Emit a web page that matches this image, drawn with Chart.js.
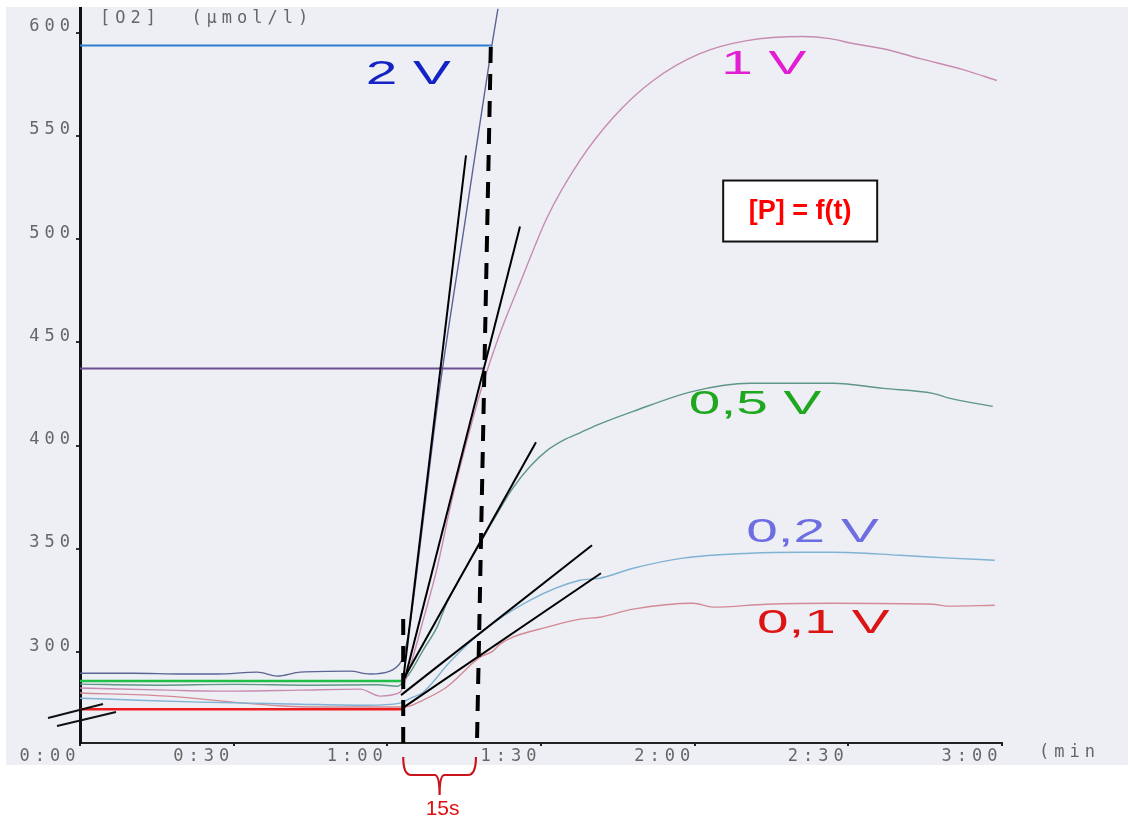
<!DOCTYPE html>
<html>
<head>
<meta charset="utf-8">
<script src="https://cdn.jsdelivr.net/npm/chart.js@4.4.1/dist/chart.umd.min.js"></script>
<style>
  html, body { margin: 0; padding: 0; background: #ffffff; }
  #wrap { width: 1130px; height: 821px; position: relative; }
</style>
</head>
<body>
<div id="wrap"><canvas id="chart_o2"></canvas></div>
<script>
// axis ticks
const tickTimes = [0, 30, 60, 90, 120, 150, 180]; // seconds
const tickTimeLabels = ["0:00", "0:30", "1:00", "1:30", "2:00", "2:30", "3:00"];
const tickO2 = [300, 350, 400, 450, 500, 550, 600];

// recorded [O2] curves, time in s, value in µmol/l
const time2V = [0, 10.3, 20.1, 26.7, 34.6, 38.5, 43, 52.7, 56.6, 60.5, 62.5, 63.25, 64.4, 66.4, 69.9, 75.2, 80.4, 81.6, 82.4];
const o2At2V = [289.8, 289.8, 289.4, 289.4, 290.3, 288.4, 290.3, 290.8, 289.4, 290.8, 294.7, 298.6, 313.1, 351.8, 421.9, 509, 593.7, 611.6, 624.5];

const time1V = [0, 17, 29.9, 42.9, 54.7, 58.6, 62.5, 63.4, 65, 67, 69.7, 72.6, 77.7, 78.7, 82, 85.9, 91.2, 97.6, 104.1, 111.9, 121, 130.2, 141.2, 146.4, 150.9, 157.5, 164, 172.4, 179];
const o2At1V = [282.6, 281.6, 281.1, 281.6, 282.1, 278.7, 280.6, 285.5, 297.6, 315.5, 340.6, 373.6, 421.9, 430.2, 454.4, 478.6, 510.5, 538.1, 558.9, 576.8, 589.8, 596.1, 598.1, 597.1, 594.7, 591.8, 587.4, 582.1, 576.8];

const time05V = [0, 15, 30, 45, 58, 62, 63.8, 65, 67, 69.7, 71.6, 78.1, 81.4, 84.5, 87.9, 91.2, 94.5, 97.6, 101.5, 108, 119.7, 130.8, 143.1, 147, 156.8, 166.5, 169.9, 178.2];
const o2At05V = [284.5, 284, 284.4, 284, 284.2, 283.5, 287.9, 292.3, 301, 312.1, 323.7, 352.7, 366.8, 379.4, 390, 397.7, 402.8, 406.2, 410.5, 416.6, 426.3, 430.2, 430.2, 430.2, 427.7, 425.3, 422.9, 419];

const time02V = [0, 10.3, 23.4, 33.2, 42.9, 56, 62.5, 63.8, 65, 67, 72.2, 78.1, 87.9, 97.6, 101.5, 108, 117.7, 130.8, 140.6, 147, 160.1, 169.9, 178.6];
const o2At02V = [277.7, 276.8, 275.8, 275.3, 274.8, 274.3, 275.3, 276.8, 278.2, 280.6, 295.2, 309.2, 325.2, 334.8, 335.8, 340.6, 345.5, 347.9, 348.4, 348.4, 346.9, 345.5, 344.5];

const time01V = [0, 17, 29.9, 39.6, 46.3, 58.6, 63.4, 67, 71.6, 78.1, 80.6, 82, 84.5, 91.2, 97.6, 101.5, 108, 119.7, 123.6, 134.1, 147, 166.5, 169.3, 178.6];
const o2At01V = [280.2, 278.7, 275.8, 273.9, 273.4, 273.4, 273.4, 276.8, 283.1, 297.6, 300.5, 303.9, 307.3, 312.1, 316, 316.9, 320.8, 323.7, 321.8, 323.2, 323.7, 323.2, 322.3, 322.7];

// horizontal reading lines: [end time, level]
const levelBlue = [80.4, 593.7];
const levelPurple = [78.7, 437.4];
const levelGreen = [62.7, 286.0];
const levelRed = [63.1, 272.4];

// hand-drawn tangents: [t start, t end], [o2 start, o2 end]
const tangentTimes = [[63.25, 75.36], [63.45, 85.9], [63.06, 89.02], [62.67, 99.96], [63.25, 101.7]];
const tangentO2 = [[289.8, 540.5], [287.4, 506.1], [286.5, 401.6], [279.2, 351.8], [273.4, 338.2]];

// dashed reading verticals
const dashTimes = [[63.1, 63.1], [80.2, 77.5]];
const dashO2 = [[256, 317.9], [593, 256]];

// annotations
const voltLabels = ["2 V", "1 V", "0,5 V", "0,2 V", "0,1 V"];
const voltLabelAt = [[64.1, 579.7], [133.5, 584.5], [131.8, 419.5], [143.0, 357.8], [145.1, 313.6]];
const voltColors = ["#1424c4", "#e21ed2", "#1fa81f", "#6e6ee2", "#dc1414"];

const pts = (ts, vs) => ts.map((t, i) => ({ x: t, y: vs[i] }));

function curve(ts, vs, color) {
  return {
    data: pts(ts, vs),
    borderColor: color,
    borderWidth: 1.4,
    pointRadius: 0,
    cubicInterpolationMode: "monotone",
    order: 3,
  };
}

function straight(ts, vs, color, width, order, dash) {
  return {
    data: pts(ts, vs),
    borderColor: color,
    borderWidth: width,
    pointRadius: 0,
    tension: 0,
    borderDash: dash || [],
    borderCapStyle: "butt",
    order: order,
  };
}

function stretchText(ctx, text, x, y, font, color, sx) {
  ctx.save();
  ctx.translate(x, y);
  ctx.scale(sx, 1);
  ctx.font = font;
  ctx.fillStyle = color;
  ctx.textAlign = "center";
  ctx.textBaseline = "middle";
  ctx.fillText(text, 0, 0);
  ctx.restore();
}

const paperPlugin = {
  id: "paper",
  beforeDraw(chart) {
    const ctx = chart.ctx;
    ctx.save();
    ctx.fillStyle = "#eeeff4"; // scanned sheet
    ctx.fillRect(6, 7, 1122, 758);
    ctx.restore();
    ctx.letterSpacing = "5px"; // typewriter spacing for tick labels
  },
  beforeDatasetsDraw(chart) {
    chart.ctx.letterSpacing = "0px";
  },
  afterDraw(chart) {
    const ctx = chart.ctx;
    const xs = chart.scales.x;
    const ys = chart.scales.y;
    const area = chart.chartArea;
    ctx.save();
    ctx.letterSpacing = "0px";

    voltLabels.forEach((txt, i) => {
      stretchText(ctx, txt, xs.getPixelForValue(voltLabelAt[i][0]), ys.getPixelForValue(voltLabelAt[i][1]),
        "33px 'Liberation Sans', Arial, sans-serif", voltColors[i], 1.72);
    });

    // unit header and axis unit
    ctx.letterSpacing = "5px";
    ctx.font = "17px 'DejaVu Sans Mono', monospace";
    ctx.fillStyle = "#666666";
    ctx.textAlign = "left";
    ctx.textBaseline = "middle";
    ctx.fillText("[O2]  (µmol/l)", xs.getPixelForValue(3.9), ys.getPixelForValue(606.8));
    ctx.fillText("(min", xs.getPixelForValue(180) + 37, area.bottom + 10);
    ctx.letterSpacing = "0px";

    // [P] = f(t) box
    const bx = xs.getPixelForValue(140.6);
    const by = ys.getPixelForValue(513.6);
    ctx.fillStyle = "#ffffff";
    ctx.fillRect(bx - 77, by - 30.5, 154, 61);
    ctx.strokeStyle = "#111111";
    ctx.lineWidth = 2;
    ctx.strokeRect(bx - 77, by - 30.5, 154, 61);
    ctx.fillStyle = "#ff0000";
    ctx.font = "bold 27px 'Liberation Sans', Arial, sans-serif";
    ctx.textAlign = "center";
    ctx.fillText("[P] = f(t)", bx, by + 1);

    // axis break marks
    const x0 = xs.getPixelForValue(0);
    ctx.strokeStyle = "#111111";
    ctx.lineWidth = 2;
    ctx.beginPath();
    ctx.moveTo(x0 - 32, area.bottom - 25);
    ctx.lineTo(x0 + 23, area.bottom - 39);
    ctx.moveTo(x0 - 23, area.bottom - 17);
    ctx.lineTo(x0 + 36, area.bottom - 31);
    ctx.stroke();

    // 15 s brace
    const b0 = xs.getPixelForValue(63.1);
    const b1 = xs.getPixelForValue(77.3);
    const bm = (b0 + b1) / 2;
    const yTop = area.bottom + 14;
    const yMid = area.bottom + 32;
    const yTip = area.bottom + 52;
    ctx.strokeStyle = "#c8161c";
    ctx.lineWidth = 2.2;
    ctx.beginPath();
    ctx.moveTo(b0, yTop);
    ctx.quadraticCurveTo(b0, yMid, b0 + 8, yMid);
    ctx.lineTo(bm - 5, yMid);
    ctx.quadraticCurveTo(bm, yMid, bm, yTip);
    ctx.quadraticCurveTo(bm, yMid, bm + 5, yMid);
    ctx.lineTo(b1 - 8, yMid);
    ctx.quadraticCurveTo(b1, yMid, b1, yTop);
    ctx.stroke();
    ctx.fillStyle = "#e01010";
    ctx.font = "21px 'Liberation Sans', Arial, sans-serif";
    ctx.textAlign = "center";
    ctx.fillText("15s", bm + 3, area.bottom + 66);
    ctx.restore();
  },
};

const datasets = [
  straight(dashTimes[0], dashO2[0], "#000000", 4, 0, [16, 11]),
  straight(dashTimes[1], dashO2[1], "#000000", 4, 0, [16, 11]),
];
tangentTimes.forEach((ts, i) => datasets.push(straight(ts, tangentO2[i], "#000000", 2, 1)));
datasets.push(straight([0, levelBlue[0]], [levelBlue[1], levelBlue[1]], "#2f7fcf", 2, 2));
datasets.push(straight([0, levelPurple[0]], [levelPurple[1], levelPurple[1]], "#6b4f8f", 2, 2));
datasets.push(straight([0, levelGreen[0]], [levelGreen[1], levelGreen[1]], "#1fbf4a", 2.5, 2));
datasets.push(straight([0, levelRed[0]], [levelRed[1], levelRed[1]], "#ee1c1c", 2.5, 2));
datasets.push(curve(time2V, o2At2V, "#5b6494"));
datasets.push(curve(time1V, o2At1V, "#c78bb2"));
datasets.push(curve(time05V, o2At05V, "#5e9688"));
datasets.push(curve(time02V, o2At02V, "#7fb2d4"));
datasets.push(curve(time01V, o2At01V, "#d28a96"));

const tickFont = { family: "'DejaVu Sans Mono', monospace", size: 17, lineHeight: 0.9 };

const ctxO2 = document.getElementById("chart_o2").getContext("2d");
const chartO2 = new Chart(ctxO2, {
  type: "line",
  data: { datasets: datasets },
  plugins: [paperPlugin],
  options: {
    animation: false,
    responsive: true,
    maintainAspectRatio: false,
    events: [],
    layout: { padding: { left: 0, right: 128, top: 8, bottom: 0 } },
    plugins: {
      legend: { display: false },
      tooltip: { enabled: false },
    },
    scales: {
      x: {
        type: "linear",
        min: 0,
        max: 180,
        afterBuildTicks: (s) => { s.ticks = tickTimes.map((v) => ({ value: v })); },
        afterFit: (s) => { s.height = 78; },
        grid: { drawOnChartArea: false, tickLength: 3, color: "#222222", lineWidth: 2 },
        border: { color: "#222222", width: 2 },
        ticks: {
          callback: (v) => tickTimeLabels[tickTimes.indexOf(v)],
          color: "#666666",
          font: tickFont,
          labelOffset: -30,
          padding: 3,
          maxRotation: 0,
          autoSkip: false,
        },
      },
      y: {
        type: "linear",
        min: 256,
        max: 611.6,
        afterBuildTicks: (s) => { s.ticks = tickO2.map((v) => ({ value: v })); },
        afterFit: (s) => { s.width = 80; },
        grid: { drawOnChartArea: false, tickLength: 4, color: "#333333", lineWidth: 2 },
        border: { color: "#111111", width: 3 },
        ticks: {
          color: "#666666",
          font: tickFont,
          padding: 1,
          labelOffset: -6,
          autoSkip: false,
        },
      },
    },
  },
});
</script>
</body>
</html>
